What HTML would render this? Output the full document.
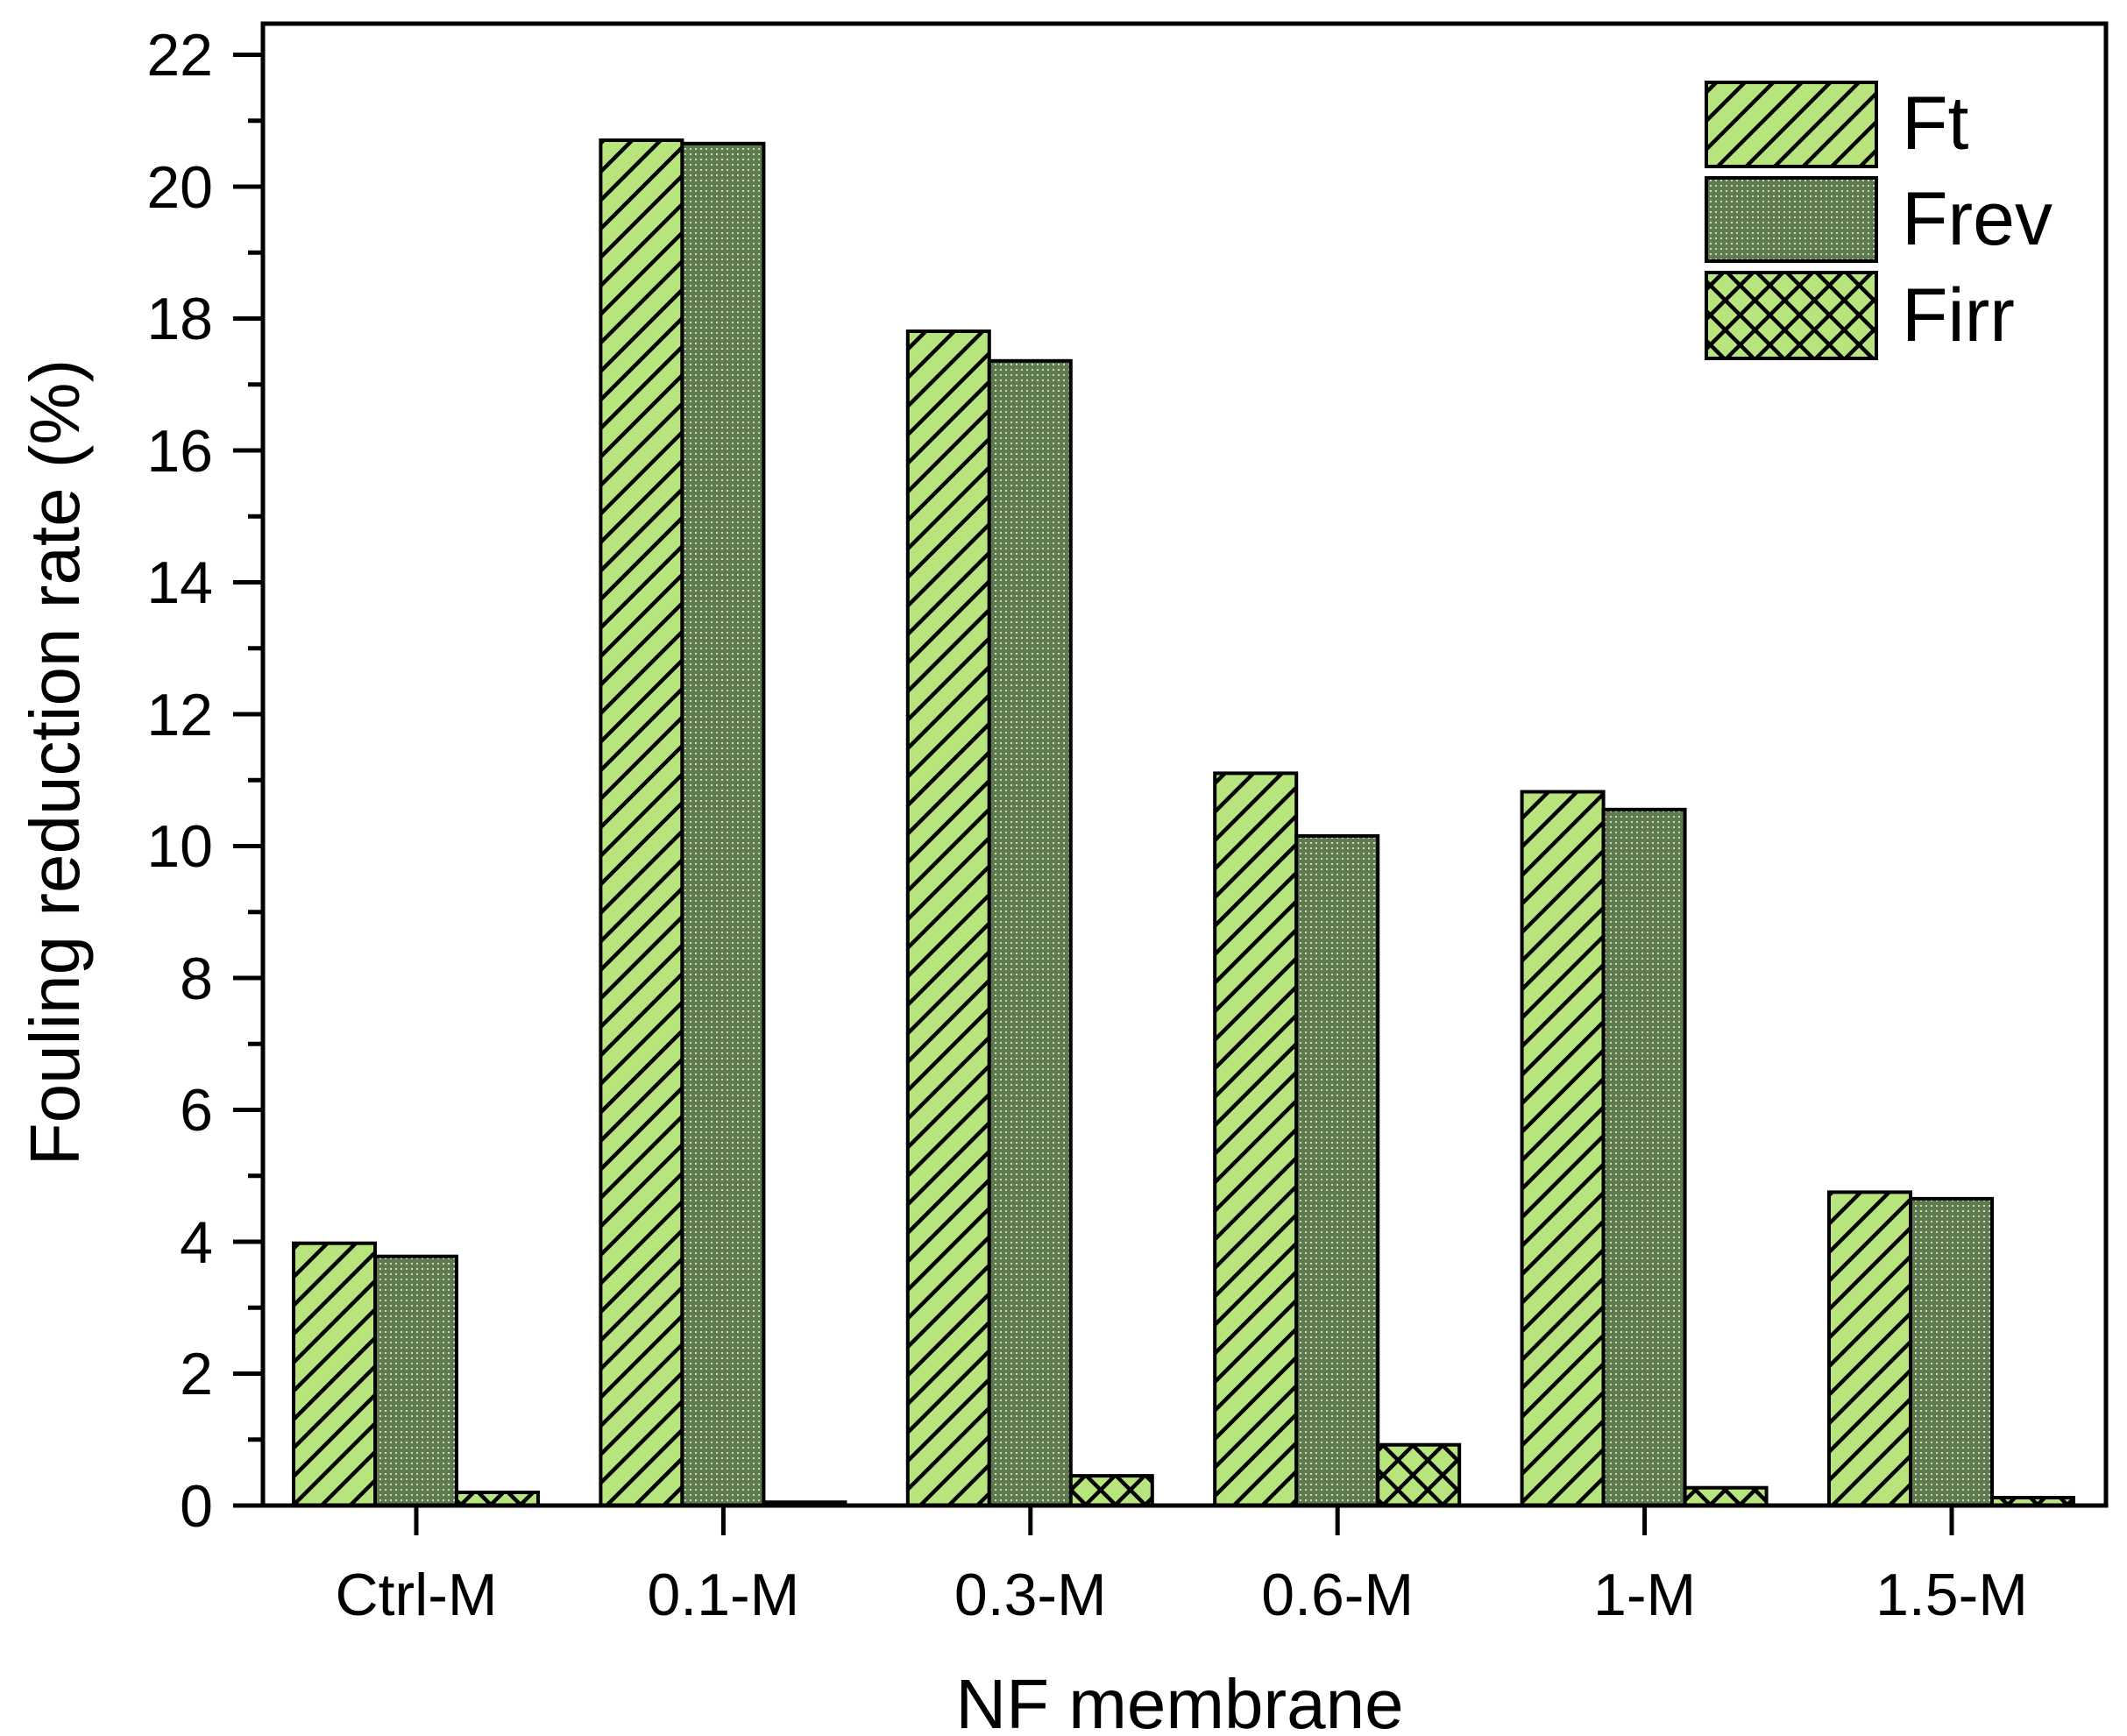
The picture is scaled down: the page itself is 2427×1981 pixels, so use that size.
<!DOCTYPE html>
<html><head><meta charset="utf-8"><style>body{margin:0;background:#fff}svg{display:block}</style></head><body>
<svg width="2427" height="1981" viewBox="0 0 2427 1981" xmlns="http://www.w3.org/2000/svg" font-family="Liberation Sans, Arial, sans-serif">
<defs>
<pattern id="ft" patternUnits="userSpaceOnUse" width="23" height="23" patternTransform="rotate(45)">
<rect width="23" height="23" fill="#b7e47c"/><rect x="0" y="0" width="4.5" height="23" fill="#000"/></pattern>
<pattern id="fr" patternUnits="userSpaceOnUse" width="6" height="6">
<rect width="6" height="6" fill="#5f7a50"/><rect x="1" y="1" width="2" height="2" fill="#c8dcb0"/></pattern>
<pattern id="fi" patternUnits="userSpaceOnUse" width="24" height="24" patternTransform="rotate(45)">
<rect width="24" height="24" fill="#b7e47c"/><rect x="0" y="0" width="4.5" height="24" fill="#000"/><rect x="0" y="0" width="24" height="4.5" fill="#000"/></pattern>
</defs>
<g stroke="#000" stroke-width="4">
<rect x="335" y="1418.7" width="93" height="299.3" fill="url(#ft)"/>
<rect x="428" y="1433.7" width="93" height="284.3" fill="url(#fr)"/>
<rect x="521" y="1703" width="93" height="15" fill="url(#fi)"/>

<rect x="685.4" y="160" width="93" height="1558" fill="url(#ft)"/>
<rect x="778.4" y="163.8" width="93" height="1554.2" fill="url(#fr)"/>
<rect x="871.4" y="1714.2" width="93" height="3.8" fill="url(#fi)"/>

<rect x="1035.8" y="378" width="93" height="1340" fill="url(#ft)"/>
<rect x="1128.8" y="411.8" width="93" height="1306.2" fill="url(#fr)"/>
<rect x="1221.8" y="1684.1" width="93" height="33.9" fill="url(#fi)"/>

<rect x="1386.2" y="882.4" width="93" height="835.6" fill="url(#ft)"/>
<rect x="1479.2" y="953.9" width="93" height="764.1" fill="url(#fr)"/>
<rect x="1572.2" y="1648.7" width="93" height="69.3" fill="url(#fi)"/>

<rect x="1736.6" y="903.5" width="93" height="814.5" fill="url(#ft)"/>
<rect x="1829.6" y="923.8" width="93" height="794.2" fill="url(#fr)"/>
<rect x="1922.6" y="1697.7" width="93" height="20.3" fill="url(#fi)"/>

<rect x="2087" y="1360.4" width="93" height="357.6" fill="url(#ft)"/>
<rect x="2180" y="1367.9" width="93" height="350.1" fill="url(#fr)"/>
<rect x="2273" y="1709" width="93" height="9" fill="url(#fi)"/>
</g>
<rect x="300" y="27" width="2103" height="1691" fill="none" stroke="#000" stroke-width="5"/>
<g stroke="#000" stroke-width="5">
<line x1="266" y1="1718" x2="300" y2="1718"/><line x1="283" y1="1642.8" x2="300" y2="1642.8"/>
<line x1="266" y1="1567.5" x2="300" y2="1567.5"/><line x1="283" y1="1492.3" x2="300" y2="1492.3"/>
<line x1="266" y1="1417" x2="300" y2="1417"/><line x1="283" y1="1341.8" x2="300" y2="1341.8"/>
<line x1="266" y1="1266.5" x2="300" y2="1266.5"/><line x1="283" y1="1191.3" x2="300" y2="1191.3"/>
<line x1="266" y1="1116" x2="300" y2="1116"/><line x1="283" y1="1040.8" x2="300" y2="1040.8"/>
<line x1="266" y1="965.5" x2="300" y2="965.5"/><line x1="283" y1="890.3" x2="300" y2="890.3"/>
<line x1="266" y1="815" x2="300" y2="815"/><line x1="283" y1="739.8" x2="300" y2="739.8"/>
<line x1="266" y1="664.5" x2="300" y2="664.5"/><line x1="283" y1="589.3" x2="300" y2="589.3"/>
<line x1="266" y1="514" x2="300" y2="514"/><line x1="283" y1="438.8" x2="300" y2="438.8"/>
<line x1="266" y1="363.5" x2="300" y2="363.5"/><line x1="283" y1="288.3" x2="300" y2="288.3"/>
<line x1="266" y1="213" x2="300" y2="213"/><line x1="283" y1="137.8" x2="300" y2="137.8"/>
<line x1="266" y1="62.5" x2="300" y2="62.5"/>
<line x1="475" y1="1718" x2="475" y2="1752"/><line x1="825.4" y1="1718" x2="825.4" y2="1752"/>
<line x1="1175.8" y1="1718" x2="1175.8" y2="1752"/><line x1="1526.2" y1="1718" x2="1526.2" y2="1752"/>
<line x1="1876.6" y1="1718" x2="1876.6" y2="1752"/><line x1="2227" y1="1718" x2="2227" y2="1752"/>
</g>
<g font-size="68" text-anchor="end" fill="#000">
<text x="243" y="1742">0</text><text x="243" y="1591">2</text><text x="243" y="1441">4</text>
<text x="243" y="1290">6</text><text x="243" y="1140">8</text><text x="243" y="989">10</text>
<text x="243" y="839">12</text><text x="243" y="688">14</text><text x="243" y="538">16</text>
<text x="243" y="387">18</text><text x="243" y="237">20</text><text x="243" y="86">22</text>
</g>
<g font-size="68" text-anchor="middle" fill="#000">
<text x="475" y="1843">Ctrl-M</text><text x="825.4" y="1843">0.1-M</text><text x="1175.8" y="1843">0.3-M</text>
<text x="1526.2" y="1843">0.6-M</text><text x="1876.6" y="1843">1-M</text><text x="2227" y="1843">1.5-M</text>
</g>
<text x="1346" y="1972" font-size="80" text-anchor="middle">NF membrane</text>
<text transform="translate(62,870) rotate(-90)" x="0" y="28" font-size="80" text-anchor="middle">Fouling reduction rate (%)</text>
<g stroke="#000" stroke-width="4">
<rect x="1947" y="94" width="194" height="96" fill="url(#ft)"/>
<rect x="1947" y="203" width="194" height="95" fill="url(#fr)"/>
<rect x="1947" y="311" width="194" height="98" fill="url(#fi)"/>
</g>
<g font-size="86" fill="#000">
<text x="2170" y="170">Ft</text><text x="2170" y="279">Frev</text><text x="2170" y="389">Firr</text>
</g>
</svg>
</body></html>
